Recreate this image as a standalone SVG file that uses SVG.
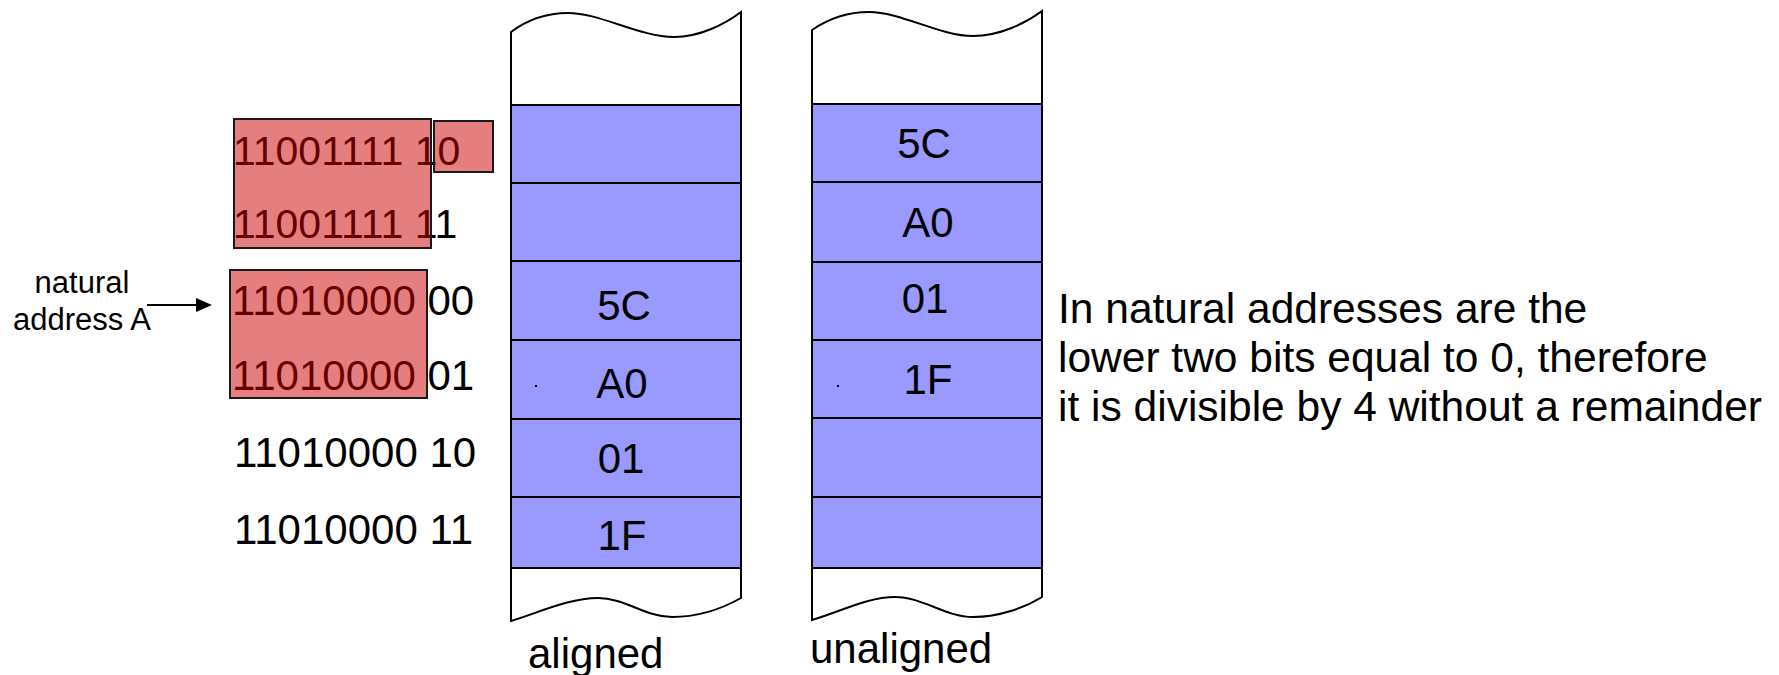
<svg xmlns="http://www.w3.org/2000/svg" width="1779" height="675" viewBox="0 0 1779 675">
<defs>
<style>
.t{font-family:"Liberation Sans",Arial,sans-serif;fill:#000}
.big{font-size:42px}
.mid{font-size:41px}
.sm{font-size:31px}
.exp{font-size:42.5px}
.c{text-anchor:middle}
.cell{fill:#9999FF;stroke:#000;stroke-width:2}
.frame{fill:#fff;stroke:#000;stroke-width:2}
.hl{fill:#CC0000;fill-opacity:0.5;stroke:#1a1a1a;stroke-width:2}
</style>
</defs>
<rect width="1779" height="675" fill="#fff"/>

<g id="addresses">
<text class="t mid" x="233" y="165">11001111 10</text>
<text class="t mid" x="233" y="238">11001111 11</text>
<text class="t big" x="232" y="315">11010000 00</text>
<text class="t big" x="232" y="390">11010000 01</text>
<text class="t big" x="234" y="467">11010000 10</text>
<text class="t big" x="234" y="544">11010000 11</text>
</g>

<g id="highlight-boxes">
<rect class="hl" x="234" y="119" width="197" height="129"/>
<rect class="hl" x="434" y="121" width="59" height="51"/>
<rect class="hl" x="230" y="270" width="197" height="128"/>
</g>

<g id="natural-label">
<text class="t sm c" x="82" y="293">natural</text>
<text class="t sm c" x="82" y="330">address A</text>
</g>

<g id="connectors">
<line x1="147" y1="305" x2="197" y2="305" stroke="#000" stroke-width="2"/>
<polygon points="196,298 212,305 196,312" fill="#000"/>
</g>

<g id="aligned">
<path class="frame" d="M511,120 L511,32 C527,20 545,13 568,13 C600,13 640,37 674,37 C700,37 725,24 741,12 L741,120"/>
<path class="frame" d="M511,568 L511,621 C540,612 570,598 598,598 C625,598 645,617 672,617 C700,617 725,607 741,598 L741,568 Z"/>
<rect class="cell" x="511" y="105" width="230" height="78"/>
<rect class="cell" x="511" y="183" width="230" height="78"/>
<rect class="cell" x="511" y="261" width="230" height="79"/>
<rect class="cell" x="511" y="340" width="230" height="79"/>
<rect class="cell" x="511" y="419" width="230" height="78"/>
<rect class="cell" x="511" y="497" width="230" height="71"/>
<text class="t big c" x="624" y="320">5C</text>
<text class="t big c" x="622" y="398">A0</text>
<text class="t big c" x="621" y="473">01</text>
<text class="t big c" x="622" y="550">1F</text>
<rect x="535" y="385" width="2" height="2" fill="#000"/>
<text class="t big" x="528" y="668">aligned</text>
</g>

<g id="unaligned">
<path class="frame" d="M812,120 L812,30 C828,19 846,12 869,12 C901,12 940,36 973,36 C1000,36 1026,23 1042,11 L1042,120"/>
<path class="frame" d="M812,568 L812,620 C842,611 868,597 895,597 C923,597 945,617 973,617 C1000,617 1026,607 1042,597 L1042,568 Z"/>
<rect class="cell" x="812" y="104" width="230" height="78"/>
<rect class="cell" x="812" y="182" width="230" height="80"/>
<rect class="cell" x="812" y="262" width="230" height="78"/>
<rect class="cell" x="812" y="340" width="230" height="78"/>
<rect class="cell" x="812" y="418" width="230" height="79"/>
<rect class="cell" x="812" y="497" width="230" height="71"/>
<text class="t big c" x="924" y="158">5C</text>
<text class="t big c" x="928" y="237">A0</text>
<text class="t big c" x="925" y="313">01</text>
<text class="t big c" x="928" y="394">1F</text>
<rect x="837" y="385" width="2" height="2" fill="#000"/>
<text class="t big" x="810" y="663">unaligned</text>
</g>

<g id="explanation">
<text class="t exp" x="1058" y="323">In natural addresses are the</text>
<text class="t exp" x="1058" y="372">lower two bits equal to 0, therefore</text>
<text class="t exp" x="1058" y="421">it is divisible by 4 without a remainder</text>
</g>
</svg>
